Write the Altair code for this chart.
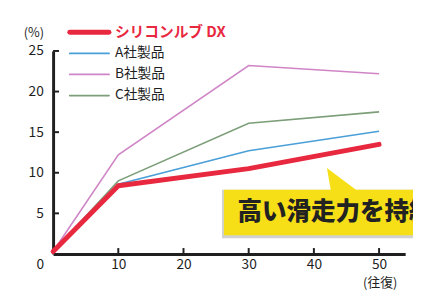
import altair as alt
import pandas as pd

# ---- data ----
cycles = [0, 10, 30, 50]
series_names = ["シリコンルブ DX", "A社製品", "B社製品", "C社製品"]
dx_values = [0.3, 8.4, 10.5, 13.5]
a_values = [0.3, 8.6, 12.7, 15.1]
b_values = [0.3, 12.2, 23.2, 22.2]
c_values = [0.3, 9.0, 16.1, 17.5]
x_ticks = [10, 20, 30, 40, 50]
y_ticks = [5, 10, 15, 20, 25]
callout_text = "高い滑走力を持続"

# ---- style ----
series_colors = ["#e8283f", "#4a9fd8", "#cf85c6", "#7c9e78"]
FONT = "Noto Sans CJK JP"
INK = "#1f1f1f"
W, H = 359, 207

rows = []
for name, vals in zip(series_names, [dx_values, a_values, b_values, c_values]):
    for c, v in zip(cycles, vals):
        rows.append({"series": name, "cycles": c, "value": v})
df = pd.DataFrame(rows)

xs = alt.Scale(domain=[0, 54], nice=False, zero=False)
ys = alt.Scale(domain=[0, 25], nice=False)
color = alt.Color("series:N", scale=alt.Scale(domain=series_names, range=series_colors), legend=None)

x_axis = alt.Axis(values=x_ticks, ticks=False, grid=False, domainWidth=3, domainColor=INK,
                  labelFont=FONT, labelFontSize=14, labelColor=INK, labelPadding=4,
                  title="(往復)", titleFont=FONT, titleFontSize=13, titleFontWeight="normal",
                  titleColor=INK, titleX=333, titleY=29, titleAlign="center", titleBaseline="middle")
y_axis = alt.Axis(values=y_ticks, ticks=False, grid=False, domainWidth=3, domainColor=INK,
                  labelFont=FONT, labelFontSize=14, labelColor=INK, labelPadding=10,
                  title="(%)", titleFont=FONT, titleFontSize=13, titleFontWeight="normal",
                  titleColor=INK, titleAngle=0, titleX=-20, titleY=-19,
                  titleAlign="center", titleBaseline="middle")

base = alt.Chart(df)
others = base.transform_filter(alt.datum.series != series_names[0]).mark_line(strokeWidth=1.6).encode(
    x=alt.X("cycles:Q", scale=xs, axis=x_axis),
    y=alt.Y("value:Q", scale=ys, axis=y_axis),
    color=color,
)
main = base.transform_filter(alt.datum.series == series_names[0]).mark_line(
    strokeWidth=5, strokeJoin="round", strokeCap="round").encode(
    x=alt.X("cycles:Q", scale=xs),
    y=alt.Y("value:Q", scale=ys),
    color=color,
)

# inward ticks
xt = alt.Chart(pd.DataFrame({"t": x_ticks})).mark_rule(strokeWidth=2, color=INK).encode(
    x=alt.X("t:Q", scale=xs), y=alt.value(H), y2=alt.value(H - 6))
yt = alt.Chart(pd.DataFrame({"t": y_ticks})).mark_rule(strokeWidth=2, color=INK).encode(
    y=alt.Y("t:Q", scale=ys), x=alt.value(0), x2=alt.value(6))
zero = alt.Chart(pd.DataFrame({"t": ["0"]})).mark_text(
    font=FONT, fontSize=14, color=INK, baseline="middle", align="center").encode(
    text="t:N", x=alt.value(-13), y=alt.value(H + 11))

# manual legend
leg = pd.DataFrame({"series": series_names,
                    "ly": [-19 + i * 21.5 for i in range(len(series_names))],
                    "sw": [5, 1.8, 1.8, 1.8]})
leg_lines = alt.Chart(leg).mark_rule(strokeCap="round").encode(
    x=alt.value(17), x2=alt.value(57), y=alt.Y("ly:Q", scale=None),
    color=color, strokeWidth=alt.StrokeWidth("sw:Q", scale=None))
leg_main_text = alt.Chart(leg.iloc[:1]).mark_text(
    font=FONT, fontSize=15, fontWeight="bold", color=series_colors[0], align="left", baseline="middle").encode(
    x=alt.value(63), y=alt.Y("ly:Q", scale=None), text="series:N")
leg_text = alt.Chart(leg.iloc[1:]).mark_text(
    font=FONT, fontSize=14, color=INK, align="left", baseline="middle").encode(
    x=alt.value(63), y=alt.Y("ly:Q", scale=None), text="series:N")

# callout
box = pd.DataFrame({"x1": [26.2], "x2": [56.5], "y1": [2.3], "y2": [7.9]})
shadow = alt.Chart(box).mark_rect(color="#9a9a9a", opacity=0.45).encode(
    x=alt.X("x1:Q", scale=xs), x2="x2:Q", y=alt.Y("y1:Q", scale=ys), y2="y2:Q",
    xOffset=alt.value(-2), yOffset=alt.value(3))
yellow = alt.Chart(box).mark_rect(color="#f6df17").encode(
    x=alt.X("x1:Q", scale=xs), x2="x2:Q", y=alt.Y("y1:Q", scale=ys), y2="y2:Q")
pointer = alt.Chart(pd.DataFrame({"py": [10.6, 7.8], "px": [42.0, 42.6], "px2": [42.0, 46.6]})).mark_area(
    orient="horizontal", color="#f6df17").encode(
    y=alt.Y("py:Q", scale=ys), x=alt.X("px:Q", scale=xs), x2="px2:Q")
ctext = alt.Chart(pd.DataFrame({"t": [callout_text], "tx": [28.3], "ty": [5.1]})).mark_text(
    font=FONT, fontSize=25, fontWeight=900, color="#222222", align="left", baseline="middle").encode(
    x=alt.X("tx:Q", scale=xs), y=alt.Y("ty:Q", scale=ys), text="t:N")

chart = alt.layer(
    others, main, xt, yt, zero, leg_lines, leg_main_text, leg_text,
    shadow, pointer, yellow, ctext
).properties(
    width=W, height=H,
    padding={"left": 46, "top": 41, "right": 8, "bottom": 36},
    autosize=alt.AutoSizeParams(type="none"),
    background="white",
).configure_view(stroke=None)

chart.save("out.html", embed_options={"renderer": "svg", "actions": False})
